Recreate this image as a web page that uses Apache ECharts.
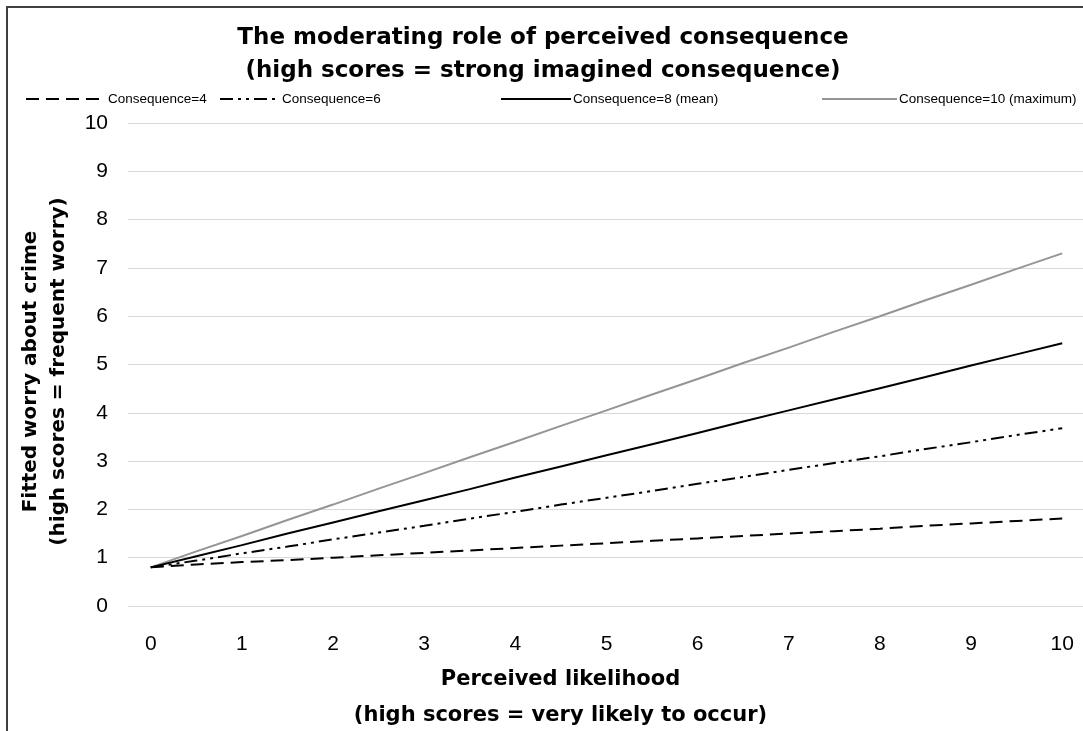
<!DOCTYPE html>
<html>
<head>
<meta charset="utf-8">
<script src="https://cdn.jsdelivr.net/npm/echarts@6/dist/echarts.min.js"></script>
<style>
  html, body { margin: 0; padding: 0; background: #fff; }
  #chart { width: 1083px; height: 731px; }
</style>
</head>
<body>
<div id="chart"></div>
<script>
// Perceived likelihood (x categories, every 0.5)
const likelihood = ['0','0.5','1','1.5','2','2.5','3','3.5','4','4.5','5','5.5','6','6.5','7','7.5','8','8.5','9','9.5','10'];
const seriesNames = ['Consequence=4', 'Consequence=6', 'Consequence=8 (mean)', 'Consequence=10 (maximum)'];
const cons4  = [0.80,0.86,0.91,0.95,1.00,1.05,1.10,1.15,1.20,1.25,1.30,1.35,1.40,1.45,1.50,1.55,1.60,1.66,1.71,1.76,1.81];
const cons6  = [0.80,0.94,1.09,1.23,1.38,1.52,1.66,1.81,1.95,2.10,2.24,2.38,2.53,2.67,2.82,2.96,3.10,3.25,3.39,3.54,3.68];
const cons8  = [0.80,1.03,1.26,1.50,1.73,1.96,2.19,2.42,2.66,2.89,3.12,3.35,3.58,3.82,4.05,4.28,4.51,4.74,4.98,5.21,5.44];
const cons10 = [0.80,1.13,1.45,1.78,2.10,2.43,2.75,3.08,3.40,3.73,4.05,4.38,4.70,5.03,5.35,5.68,6.00,6.33,6.65,6.98,7.30];
const yTicks = { min: 0, max: 10, interval: 1 };

const chart = echarts.init(document.getElementById('chart'), null, { renderer: 'canvas' });
const legendBase = {
  orient: 'horizontal', top: 87, itemHeight: 16, itemGap: 0,
  itemStyle: { opacity: 0 },
  textStyle: { fontFamily: 'Liberation Sans, Arial, sans-serif', fontSize: 13.5, color: '#000', padding: [0,0,0,-3] },
  selectedMode: false
};
const legendLefts = [20, 214, 495, 816];
const legendWidths = [80, 60, 70, 75];
const styles = [
  { color: '#000', width: 2, type: [13, 7] },
  { color: '#000', width: 2, type: [13, 5, 3, 5, 3, 5] },
  { color: '#000', width: 2, type: 'solid' },
  { color: '#959595', width: 2, type: 'solid' }
];
const datasets = [cons4, cons6, cons8, cons10];

chart.setOption({
  animation: false,
  backgroundColor: '#fff',
  graphic: [{
    type: 'rect', shape: { x: 7, y: 7, width: 1110, height: 760 },
    style: { fill: 'none', stroke: '#404040', lineWidth: 2 }, silent: true, z: 100
  }],
  title: {
    text: 'The moderating role of perceived consequence\n(high scores = strong imagined consequence)',
    left: 538, top: 17, textAlign: 'center',
    textStyle: { fontFamily: 'DejaVu Sans, sans-serif', fontWeight: 'bold', fontSize: 23, lineHeight: 33, color: '#000' }
  },
  legend: seriesNames.map((n, i) => Object.assign({}, legendBase, { left: legendLefts[i], itemWidth: legendWidths[i], data: [n] })),
  grid: { left: 128, top: 123, width: 957, height: 483, containLabel: false, outerBoundsMode: 'none' },
  xAxis: {
    type: 'category', data: likelihood, boundaryGap: true,
    axisLine: { show: false }, axisTick: { show: false }, splitLine: { show: false },
    axisLabel: { interval: 1, margin: 28, fontFamily: 'Liberation Sans, Arial, sans-serif', fontSize: 21, color: '#000' },
    name: 'Perceived likelihood\n(high scores = very likely to occur)',
    nameLocation: 'middle', nameGap: 56,
    nameTextStyle: { fontFamily: 'DejaVu Sans, sans-serif', fontWeight: 'bold', fontSize: 21, lineHeight: 36, color: '#000', padding: [0, 92, 0, 0] }
  },
  yAxis: {
    type: 'value', min: yTicks.min, max: yTicks.max, interval: yTicks.interval,
    axisLine: { show: false }, axisTick: { show: false },
    splitLine: { show: true, lineStyle: { color: '#d9d9d9', width: 1 } },
    axisLabel: { margin: 20, fontFamily: 'Liberation Sans, Arial, sans-serif', fontSize: 21, color: '#000' },
    name: 'Fitted worry about crime\n(high scores = frequent worry)',
    nameLocation: 'middle', nameRotate: 90, nameGap: 55,
    nameTextStyle: { fontFamily: 'DejaVu Sans, sans-serif', fontWeight: 'bold', fontSize: 20, lineHeight: 28, color: '#000', padding: [0, 14, 0, 0] }
  },
  series: seriesNames.map((n, i) => ({
    name: n, type: 'line', data: datasets[i], symbol: 'none', smooth: false,
    lineStyle: styles[i], itemStyle: { color: styles[i].color }, z: 10 - i
  }))
});
</script>
</body>
</html>
